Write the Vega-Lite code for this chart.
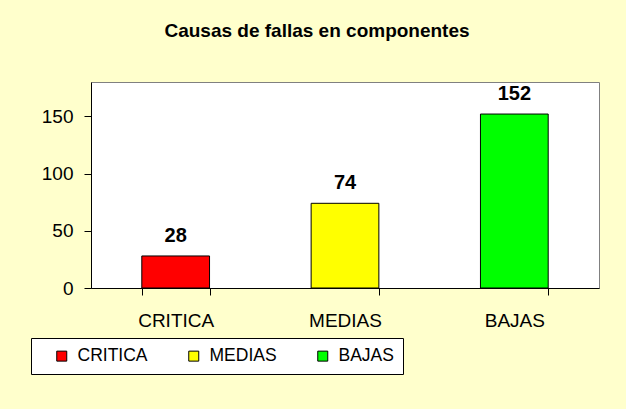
{
  "$schema": "https://vega.github.io/schema/vega-lite/v6.json",
  "autosize": {"type": "none"},
  "width": 508,
  "height": 206,
  "padding": {"left": 91, "top": 82, "right": 27, "bottom": 121},
  "background": "#FFFFCC",
  "title": {
    "text": "Causas de fallas en componentes",
    "font": "Liberation Sans",
    "fontSize": 19,
    "fontWeight": "bold",
    "color": "black",
    "anchor": "middle",
    "dx": -28,
    "offset": 41
  },
  "data": {
    "values": [
      {"nivel": "CRITICA", "valor": 28},
      {"nivel": "MEDIAS", "valor": 74},
      {"nivel": "BAJAS", "valor": 152}
    ]
  },
  "encoding": {
    "x": {
      "field": "nivel",
      "type": "nominal",
      "sort": ["CRITICA", "MEDIAS", "BAJAS"],
      "scale": {"paddingInner": 0.6, "paddingOuter": 0.3},
      "axis": {
        "title": null,
        "labelAngle": 0,
        "tickBand": "extent",
        "tickSize": 7,
        "labelPadding": 16,
        "labelFont": "Liberation Sans",
        "labelFontSize": 19,
        "labelColor": "black",
        "domainColor": "black",
        "tickColor": "black",
        "grid": false
      }
    },
    "y": {
      "field": "valor",
      "type": "quantitative",
      "scale": {"domain": [0, 180], "nice": false},
      "axis": {
        "title": null,
        "values": [0, 50, 100, 150],
        "tickSize": 7,
        "labelPadding": 11,
        "labelFont": "Liberation Sans",
        "labelFontSize": 19,
        "labelColor": "black",
        "domainColor": "black",
        "tickColor": "black",
        "grid": false
      }
    }
  },
  "layer": [
    {
      "mark": {"type": "bar", "stroke": "black", "strokeWidth": 1},
      "encoding": {
        "color": {
          "field": "nivel",
          "type": "nominal",
          "scale": {"domain": ["CRITICA", "MEDIAS", "BAJAS"], "range": ["#FF0000", "#FFFF00", "#00FF00"]},
          "legend": {
            "orient": "none",
            "legendX": -60,
            "legendY": 256,
            "direction": "horizontal",
            "gridAlign": "each",
            "title": " ",
            "titleOrient": "left",
            "titleFontSize": 1,
            "titlePadding": 13,
            "padding": 9,
            "fillColor": "white",
            "strokeColor": "black",
            "labelFont": "Liberation Sans",
            "labelFontSize": 17.5,
            "labelColor": "black",
            "labelOffset": 7,
            "columnPadding": 37,
            "symbolType": "square",
            "symbolSize": 100,
            "symbolStrokeColor": "black",
            "symbolStrokeWidth": 1,
            "symbolOpacity": 1
          }
        }
      }
    },
    {
      "mark": {
        "type": "text",
        "font": "Liberation Sans",
        "fontSize": 20,
        "fontWeight": "bold",
        "color": "black",
        "baseline": "alphabetic",
        "dy": -14
      },
      "encoding": {"text": {"field": "valor", "type": "quantitative"}}
    }
  ],
  "config": {
    "view": {"fill": "white", "stroke": "#808080"}
  }
}
